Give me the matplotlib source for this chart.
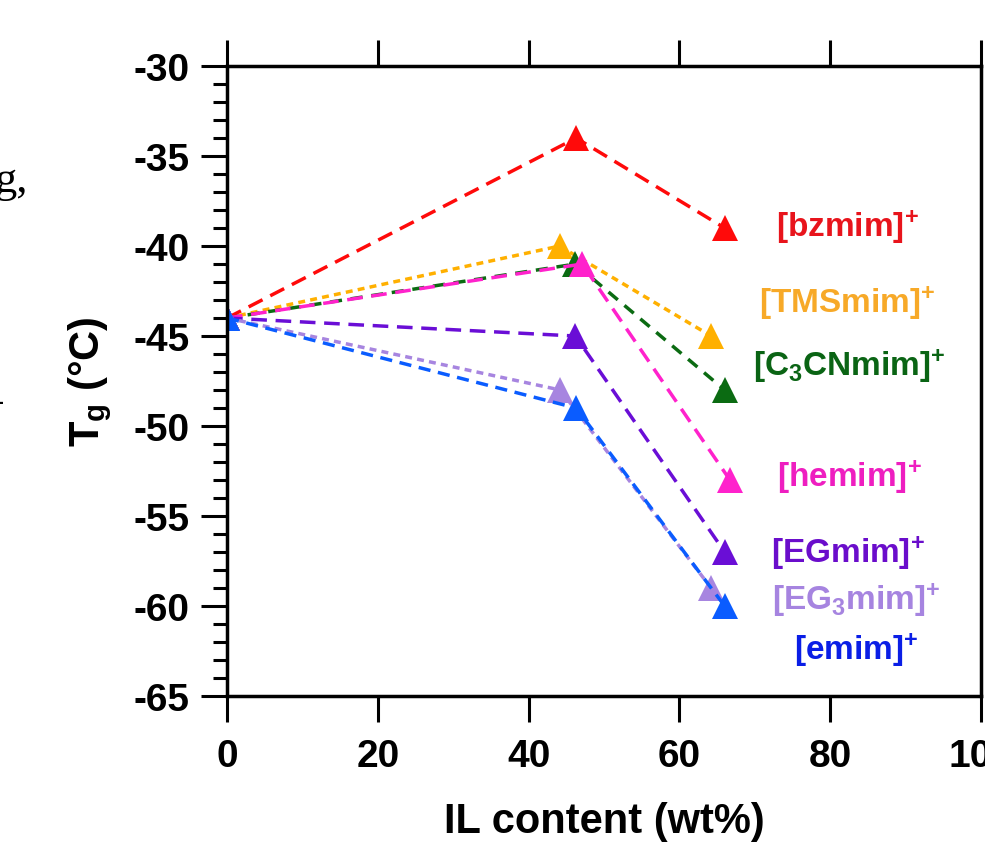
import numpy as np
import matplotlib.pyplot as plt

plt.rcParams["font.family"] = ["Liberation Sans", "DejaVu Sans"]
plt.rcParams["font.weight"] = "bold"
plt.rcParams["axes.unicode_minus"] = False
plt.rcParams["mathtext.default"] = "regular"

# Tg of neat polymer and of the two IL loadings for each cation
tg_neat = -44
cations = ["bzmim", "TMSmim", "C3CNmim", "hemim", "EGmim", "EG3mim", "emim"]
il_mid = [46.3, 44.1, 46.2, 47.1, 46.2, 44.2, 46.3]
tg_mid = [-34, -40, -41, -41, -45, -48, -49]
il_high = [66.0, 64.2, 66.0, 66.7, 66.0, 64.2, 66.0]
tg_high = [-39, -45, -48, -53, -57, -59, -60]
labels = [r"$[bzmim]^{+}$", r"$[TMSmim]^{+}$", r"$[C_3CNmim]^{+}$", r"$[hemim]^{+}$",
          r"$[EGmim]^{+}$", r"$[EG_3mim]^{+}$", r"$[emim]^{+}$"]

line_colors = ["#ff0a0a", "#ffb000", "#0b6b12", "#ff22cc", "#6a0ed6", "#a785e0", "#0a5cff"]
text_colors = ["#e8141c", "#f7a928", "#0a6414", "#ee1ec0", "#6a0dcb", "#a684e0", "#0a1ee6"]
dash_styles = [(4.5, 2.5), (2, 1.5), (3.5, 2.5), (4.5, 2.5), (4.5, 2.5), (2, 1.5), (3.5, 2.2)]
label_pos = [(82.3, -38.9), (82.3, -43.1), (82.5, -46.6), (82.5, -52.8),
             (82.3, -57.0), (83.5, -59.6), (83.5, -62.4)]

fig = plt.figure(figsize=(9.85, 8.54), dpi=100)
ax = fig.add_axes([0.2305, 0.1838, 0.7655, 0.7377])

for i in range(len(cations)):
    xs = [0, il_mid[i], il_high[i]]
    ys = [tg_neat, tg_mid[i], tg_high[i]]
    ax.plot(xs, ys, linestyle=(0, dash_styles[i]), color=line_colors[i], lw=2.5,
            marker="^", markersize=19, markeredgewidth=0)
    ax.text(label_pos[i][0], label_pos[i][1], labels[i], color=text_colors[i],
            fontsize=24, fontweight="bold", ha="center", va="center")

ax.set_xlim(0, 100)
ax.set_ylim(-65, -30)
ax.set_xticks(np.arange(0, 101, 20))
ax.set_yticks(np.arange(-65, -29, 5))
ax.set_yticks(np.arange(-65, -29, 1), minor=True)
ax.tick_params(axis="x", which="major", direction="out", length=19, width=2.2,
               labelsize=28, pad=11, top=True)
ax.tick_params(axis="y", which="major", direction="out", length=19, width=2.2,
               labelsize=28, pad=8)
ax.tick_params(axis="y", which="minor", direction="out", length=10, width=2.2)
for s in ax.spines.values():
    s.set_linewidth(2.5)

ax.set_xlabel("IL content (wt%)", fontsize=30, fontweight="bold", labelpad=20)
ax.set_ylabel(r"T$_g$ (°C)", fontsize=30, fontweight="bold", labelpad=14)

# fragments of neighbouring text cut off at the left edge
fig.text(-0.006, 1 - 192 / 854, "g,", family="Liberation Serif", fontsize=32,
         fontweight="normal", ha="left", va="baseline")
fig.text(-0.006, 1 - 403 / 854, "-", family="Liberation Serif", fontsize=22,
         fontweight="normal", ha="left", va="center")

fig.savefig("out.png", dpi=100)
